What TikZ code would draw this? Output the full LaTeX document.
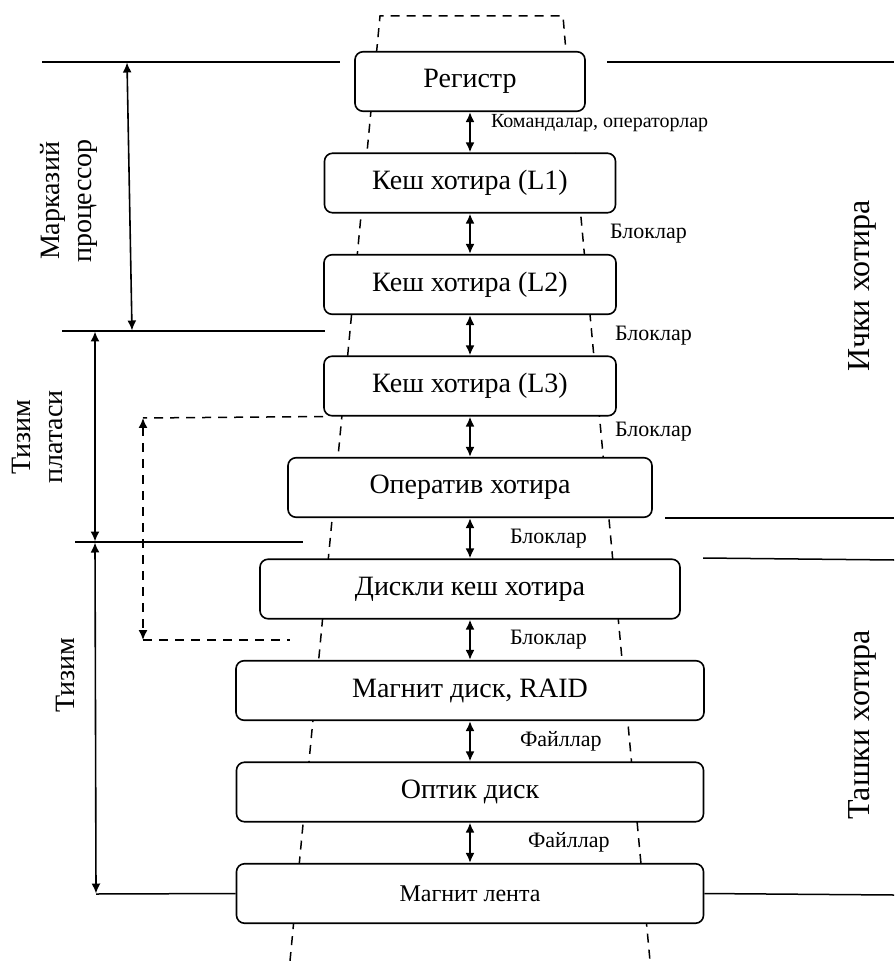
\documentclass[tikz,border=0pt]{standalone}
\usepackage{fontspec}
\setmainfont{Liberation Serif}
\usetikzlibrary{positioning,arrows.meta}

\begin{document}
\begin{tikzpicture}[x=0.5pt, y=-0.5pt, node distance=50.75pt,
        >={Latex[length=5pt,width=4.5pt]},
        level/.style={rectangle, draw=black, fill=white, rounded corners=4pt, line width=0.8pt, minimum height=29.75pt, font=\fontsize{14}{16}\selectfont},
        lbl/.style={inner sep=0pt, anchor=west, font=\fontsize{11}{13}\selectfont},
        side/.style={rotate=90, align=center, inner sep=0pt, font=\fontsize{14}{16}\selectfont},
        bound/.style={line width=0.75pt},
        trap/.style={dash pattern=on 4.5pt off 3.5pt, line width=0.75pt}]
        \useasboundingbox (0,0) rectangle (894,961);

        % dashed outline behind the levels
        \draw[trap] (290,961) -- (380,16) -- (563,16) -- (566,52);
        \draw[trap] (575,153) -- (650,961);

        \node[level, minimum width=115pt] (1) at (470,81.5) {Регистр};
        \node[level, minimum width=145.5pt, below of=1] (2) {Кеш хотира (L1)};
        \node[level, minimum width=146pt, below of=2] (3) {Кеш хотира (L2)};
        \node[level, minimum width=146pt, below of=3] (4) {Кеш хотира (L3)};
        \node[level, minimum width=182pt, below of=4] (5) {Оператив хотира};
        \node[level, minimum width=210pt, below of=5] (6) {Дискли кеш хотира};
        \node[level, minimum width=234pt, below of=6] (7) {Магнит диск, RAID};
        \node[level, minimum width=233.5pt, below of=7] (8) {Оптик диск};
        \node[level, minimum width=233.5pt, below of=8, font=\fontsize{12}{14}\selectfont] (9) {Магнит лента};

        \path[<->, line width=1pt]
        (1.south) edge node[lbl, xshift=10pt, yshift=4.5pt, font=\fontsize{10}{12}\selectfont] {Командалар, операторлар} (2.north)
        (2.south) edge node[lbl, xshift=69.5pt] {Блоклар} (3.north)
        (3.south) edge node[lbl, xshift=72pt] {Блоклар} (4.north)
        (4.south) edge node[lbl, xshift=72pt, yshift=2.5pt] {Блоклар} (5.north)
        (5.south) edge node[lbl, xshift=19.5pt] {Блоклар} (6.north)
        (6.south) edge node[lbl, xshift=19.5pt] {Блоклар} (7.north)
        (7.south) edge node[lbl, xshift=24.5pt] {Файллар} (8.north)
        (8.south) edge node[lbl, xshift=28.5pt] {Файллар} (9.north);

        % level boundaries
        \draw[bound] (42,62) -- (340,62);
        \draw[bound] (607,62) -- (894,62);
        \draw[bound] (62,331) -- (325,331);
        \draw[bound] (75,542) -- (303,542);
        \draw[bound] (665,518) -- (894,518);
        \draw[bound] (703,558) -- (894,560);
        \draw[bound] (96,894) -- (9.west);
        \draw[bound] (9.east) -- (894,895);

        \coordinate (c1) at (127,62.5);
        \coordinate (c2) at (132,330.5);
        \coordinate (m1) at (95,331.5);
        \coordinate (m2) at (95,541.5);
        \coordinate (s1) at (95,542.5);
        \coordinate (s2) at (96,893.5);
        \draw[<->, line width=0.8pt] (c1) -- (c2);
        \draw[<->, line width=0.8pt] (m1) -- (m2);
        \draw[<->, line width=0.8pt] (s1) -- (s2);

        \coordinate (d1) at (143,418);
        \coordinate (d2) at (143,640);
        \draw[trap] (4.south west) -- (d1);
        \draw[trap, <->] (d1) -- (d2);
        \draw[trap] (d2) -- (290,640);

        \node[side] (cpu) at (69,201) {Марказий\\процессор};
        \node[side] (board) at (37,437) {Тизим\\платаси};
        \node[side] (sys) at (65,675) {Тизим};
        \node[side, font=\fontsize{16}{19}\selectfont] (inmem) at (862,286) {Ички хотира};
        \node[side, font=\fontsize{16}{19}\selectfont] (outmem) at (862,725) {Ташки хотира};
\end{tikzpicture}
\end{document}
